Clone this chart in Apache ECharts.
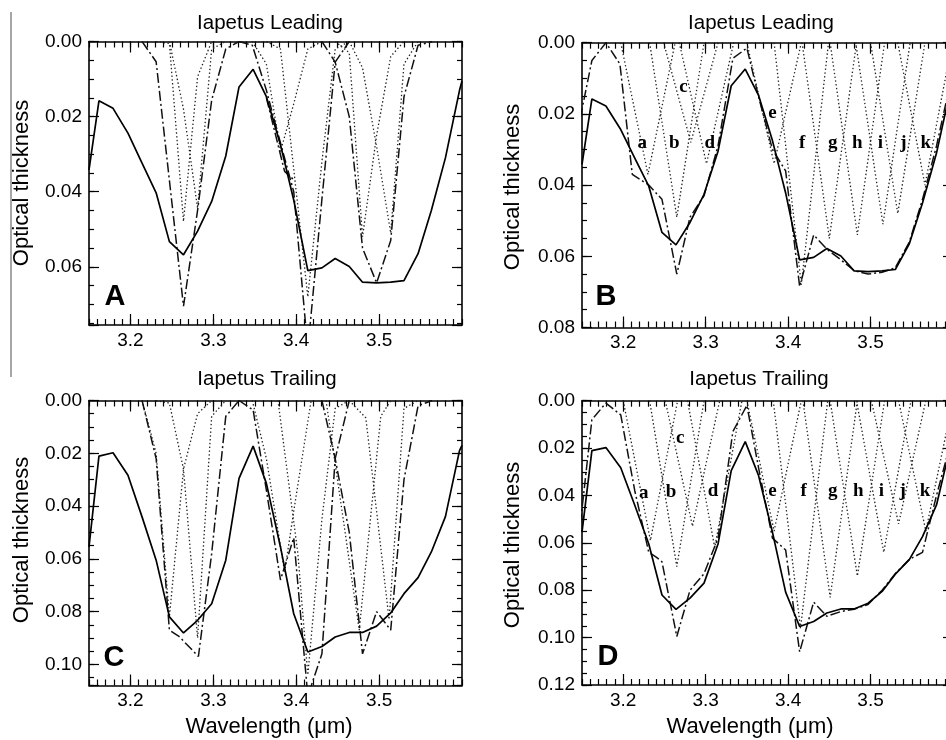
<!DOCTYPE html>
<html>
<head>
<meta charset="utf-8">
<script src="https://cdn.jsdelivr.net/npm/echarts@6/dist/echarts.min.js"></script>
<style>
html, body { margin: 0; padding: 0; background: #fff; }
#chart { width: 946px; height: 740px; }
</style>
</head>
<body>
<div id="chart"></div>
<script>
// observed spectra, shared wavelength grid (µm)
const wavelength = [3.150, 3.162, 3.179, 3.197, 3.214, 3.231, 3.247, 3.264, 3.281, 3.298, 3.315, 3.331, 3.348, 3.364,
    3.381, 3.397, 3.414, 3.431, 3.447, 3.464, 3.480, 3.497, 3.514, 3.530, 3.547, 3.563, 3.580, 3.597, 3.600];
const tauLeading = [0.0342, 0.0158, 0.0178, 0.0244, 0.0324, 0.0403, 0.0533, 0.0568, 0.0505, 0.0426, 0.0305, 0.0121, 0.0074, 0.0147,
    0.0275, 0.0422, 0.0610, 0.0603, 0.0578, 0.0599, 0.0641, 0.0643, 0.0641, 0.0637, 0.0565, 0.0450, 0.0310, 0.0130, 0.0105];
const tauTrailing = [0.0555, 0.0211, 0.0198, 0.0283, 0.0441, 0.0605, 0.0820, 0.0881, 0.0833, 0.0770, 0.0605, 0.0295, 0.0173, 0.0314,
    0.0555, 0.0808, 0.0953, 0.0932, 0.0896, 0.0879, 0.0879, 0.0855, 0.0805, 0.0732, 0.0671, 0.0574, 0.0440, 0.0190, 0.0170];

// panel A: band fits (dash-dot) and single components (dotted)
const fitsA = [
    [[3.214, 0], [3.231, 0.0054], [3.247, 0.037], [3.264, 0.0705], [3.281, 0.045], [3.298, 0.0156], [3.315, 0.002], [3.331, 0]],
    [[3.331, 0], [3.347, 0.001], [3.364, 0.013], [3.381, 0.027], [3.397, 0.040], [3.414, 0.082], [3.431, 0.042], [3.447, 0.0055], [3.464, 0]],
    [[3.364, 0.015], [3.386, 0.0346], [3.397, 0.0368]],
    [[3.431, 0], [3.447, 0.0055], [3.464, 0.020], [3.480, 0.055], [3.497, 0.0643], [3.514, 0.053], [3.530, 0.0147], [3.547, 0.001], [3.564, 0]]
];
const compsA = [
    [[3.231, 0], [3.247, 0.0005], [3.264, 0.0479], [3.281, 0.0094], [3.298, 0]],
    [[3.247, 0], [3.264, 0.018], [3.281, 0.0444], [3.298, 0.002], [3.315, 0]],
    [[3.347, 0], [3.364, 0.006], [3.381, 0.0293], [3.397, 0.0166], [3.414, 0.002], [3.431, 0]],
    [[3.364, 0], [3.381, 0.002], [3.397, 0.034], [3.414, 0.068], [3.431, 0.032], [3.447, 0.002], [3.464, 0]],
    [[3.447, 0], [3.464, 0.003], [3.480, 0.052], [3.497, 0.025], [3.514, 0.004], [3.530, 0]],
    [[3.464, 0], [3.480, 0.007], [3.497, 0.028], [3.514, 0.051], [3.530, 0.006], [3.547, 0]]
];

// panel B: summed model and components a-k
const fitB = [[3.148, 0.021], [3.162, 0.005], [3.179, 0.0], [3.196, 0.006], [3.211, 0.037], [3.231, 0.040], [3.247, 0.044],
    [3.265, 0.065], [3.281, 0.049], [3.298, 0.043], [3.315, 0.029], [3.333, 0.0044], [3.350, 0.0015], [3.364, 0.015],
    [3.381, 0.030], [3.397, 0.036], [3.414, 0.0685], [3.431, 0.054], [3.447, 0.058], [3.464, 0.061], [3.480, 0.064],
    [3.497, 0.065], [3.514, 0.0645], [3.530, 0.0632], [3.547, 0.056], [3.563, 0.044], [3.580, 0.029], [3.597, 0.011]];
const compsB = [
    [[3.197, 0], [3.230, 0.037], [3.263, 0]],
    [[3.232, 0], [3.265, 0.049], [3.298, 0]],
    [[3.249, 0], [3.282, 0.028], [3.315, 0]],
    [[3.268, 0], [3.301, 0.034], [3.334, 0]],
    [[3.350, 0], [3.383, 0.034], [3.416, 0]],
    [[3.383, 0], [3.416, 0.068], [3.449, 0]],
    [[3.417, 0], [3.450, 0.055], [3.483, 0]],
    [[3.451, 0], [3.484, 0.054], [3.517, 0]],
    [[3.482, 0], [3.515, 0.051], [3.548, 0]],
    [[3.500, 0], [3.533, 0.048], [3.566, 0]],
    [[3.533, 0], [3.566, 0.040], [3.599, 0]]
];

// panel C: band fits and components
const fitsC = [
    [[3.214, 0], [3.231, 0.022], [3.247, 0.087], [3.259, 0.0895], [3.282, 0.097], [3.298, 0.058], [3.315, 0.006], [3.331, 0]],
    [[3.331, 0], [3.348, 0.0036], [3.364, 0.034], [3.381, 0.068], [3.397, 0.052], [3.414, 0.112], [3.431, 0.096], [3.447, 0.022], [3.464, 0]],
    [[3.431, 0], [3.447, 0.022], [3.464, 0.050], [3.480, 0.096], [3.497, 0.080], [3.514, 0.087], [3.530, 0.030], [3.547, 0.002], [3.564, 0]]
];
const compsC = [
    [[3.214, 0], [3.231, 0.020], [3.247, 0.082], [3.264, 0.026], [3.281, 0.005], [3.298, 0]],
    [[3.231, 0], [3.247, 0.001], [3.264, 0.026], [3.281, 0.090], [3.298, 0.006], [3.315, 0]],
    [[3.347, 0], [3.364, 0.022], [3.386, 0.065], [3.397, 0.042], [3.418, 0]],
    [[3.378, 0], [3.402, 0.058], [3.414, 0.104], [3.431, 0.045], [3.447, 0.003], [3.464, 0]],
    [[3.436, 0], [3.476, 0.087], [3.502, 0.006], [3.514, 0]],
    [[3.464, 0], [3.484, 0.0066], [3.512, 0.083], [3.530, 0.003], [3.547, 0]]
];

// panel D: summed model and components a-k
const fitD = [[3.148, 0.052], [3.162, 0.008], [3.179, 0.001], [3.197, 0.006], [3.214, 0.038], [3.231, 0.064], [3.240, 0.066],
    [3.247, 0.068], [3.265, 0.0995], [3.281, 0.080], [3.298, 0.073], [3.315, 0.058], [3.333, 0.013], [3.350, 0.002],
    [3.364, 0.028], [3.381, 0.058], [3.397, 0.063], [3.414, 0.106], [3.431, 0.085], [3.447, 0.091], [3.464, 0.089],
    [3.480, 0.088], [3.497, 0.086], [3.514, 0.080], [3.530, 0.073], [3.547, 0.067], [3.563, 0.064], [3.580, 0.040], [3.597, 0.018]];
const compsD = [
    [[3.200, 0], [3.233, 0.059], [3.266, 0]],
    [[3.232, 0], [3.265, 0.070], [3.298, 0]],
    [[3.251, 0], [3.284, 0.053], [3.317, 0]],
    [[3.278, 0], [3.311, 0.062], [3.344, 0]],
    [[3.350, 0], [3.383, 0.055], [3.416, 0]],
    [[3.382, 0], [3.415, 0.096], [3.448, 0]],
    [[3.418, 0], [3.451, 0.083], [3.484, 0]],
    [[3.451, 0], [3.484, 0.074], [3.517, 0]],
    [[3.483, 0], [3.516, 0.064], [3.549, 0]],
    [[3.501, 0], [3.534, 0.052], [3.567, 0]],
    [[3.534, 0], [3.567, 0.055], [3.600, 0]]
];

// component letters
const compNames = ['a', 'b', 'c', 'd', 'e', 'f', 'g', 'h', 'i', 'j', 'k'];
const labelPosB = [[3.223, 0.0283], [3.262, 0.0283], [3.273, 0.0124], [3.305, 0.0283], [3.381, 0.0198], [3.417, 0.0283],
    [3.454, 0.0283], [3.484, 0.0283], [3.512, 0.0283], [3.540, 0.0283], [3.567, 0.0283]];
const labelPosD = [[3.225, 0.0390], [3.258, 0.0385], [3.269, 0.0157], [3.309, 0.0383], [3.381, 0.0383], [3.419, 0.0383],
    [3.454, 0.0383], [3.485, 0.0383], [3.513, 0.0383], [3.539, 0.0383], [3.566, 0.0383]];

const xTickLabels = [3.2, 3.3, 3.4, 3.5];
const yMaxes = [0.0755, 0.08, 0.108, 0.12];

const FONT = '"Liberation Sans", Arial, sans-serif';
const grids = [
    { left: 89, right: 484, top: 41.5, bottom: 415 },
    { left: 582, right: -7, top: 42.7, bottom: 412.5 },
    { left: 89, right: 484, top: 400.5, bottom: 54.5 },
    { left: 582, right: -7, top: 400.7, bottom: 55 }
].map(g => Object.assign({ outerBoundsMode: 'none', containLabel: false }, g));

const xAxis = [];
const yAxis = [];
const tickStyle = { color: '#000', width: 1.2 };
const frame = { show: true, onZero: false, lineStyle: { color: '#000', width: 1.6 } };
const noFrame = { show: false, onZero: false };

grids.forEach((g, i) => {
    const xBase = { gridIndex: i, type: 'value', min: 3.15, max: 3.6, splitLine: { show: false } };
    ['bottom', 'top'].forEach(pos => {
        xAxis.push(Object.assign({}, xBase, {
            position: pos, interval: 0.01, axisLine: frame,
            axisTick: { inside: true, length: 6, lineStyle: tickStyle }, axisLabel: { show: false }
        }));
        xAxis.push(Object.assign({}, xBase, {
            position: pos, interval: 0.01, axisLine: noFrame,
            axisTick: { inside: true, length: 11, customValues: xTickLabels, lineStyle: tickStyle },
            axisLabel: {
                show: pos === 'bottom', customValues: xTickLabels, margin: 6,
                fontFamily: FONT, fontSize: 19, color: '#000',
                formatter: v => v.toFixed(1)
            }
        }));
    });
    const yBase = { gridIndex: i, type: 'value', inverse: true, min: 0, max: yMaxes[i], splitLine: { show: false } };
    ['left', 'right'].forEach(pos => {
        yAxis.push(Object.assign({}, yBase, {
            position: pos, interval: 0.005, axisLine: frame,
            axisTick: { inside: true, length: 5, lineStyle: tickStyle }, axisLabel: { show: false }
        }));
        yAxis.push(Object.assign({}, yBase, {
            position: pos, interval: 0.02, axisLine: noFrame,
            axisTick: { inside: true, length: 10, lineStyle: tickStyle },
            axisLabel: {
                show: pos === 'left', margin: 7, fontFamily: FONT, fontSize: 19, color: '#000',
                formatter: v => (Math.abs(v / 0.02 - Math.round(v / 0.02)) < 1e-6 ? v.toFixed(2) : '')
            }
        }));
    });
});

const series = [];
function line(gi, data, kind) {
    const styles = {
        solid: { color: '#000', width: 1.7, type: 'solid' },
        fit: { color: '#111', width: 1.5, type: [10, 3, 2, 3] },
        comp: { color: '#222', width: 1.3, type: [1.4, 2.4] }
    };
    series.push({
        type: 'line', xAxisIndex: gi * 4, yAxisIndex: gi * 4, data: data,
        symbol: 'none', silent: true, clip: true, z: kind === 'solid' ? 5 : 3,
        lineStyle: styles[kind]
    });
}
function letters(gi, pos) {
    series.push({
        type: 'scatter', xAxisIndex: gi * 4, yAxisIndex: gi * 4, symbolSize: 2, silent: true,
        itemStyle: { color: 'rgba(255,255,255,0)' },
        data: pos.map((p, k) => ({ value: p, name: compNames[k] })),
        label: {
            show: true, position: 'inside', formatter: '{b}', color: '#000', opacity: 1,
            fontFamily: '"Liberation Serif", "DejaVu Serif", serif', fontWeight: 'bold', fontSize: 19
        },
        z: 6
    });
}
const lead = wavelength.map((w, k) => [w, tauLeading[k]]);
const trail = wavelength.map((w, k) => [w, tauTrailing[k]]);

compsA.forEach(c => line(0, c, 'comp'));
fitsA.forEach(c => line(0, c, 'fit'));
line(0, lead, 'solid');

compsB.forEach(c => line(1, c, 'comp'));
line(1, fitB, 'fit');
line(1, lead, 'solid');
letters(1, labelPosB);

compsC.forEach(c => line(2, c, 'comp'));
fitsC.forEach(c => line(2, c, 'fit'));
line(2, trail, 'solid');

compsD.forEach(c => line(3, c, 'comp'));
line(3, fitD, 'fit');
line(3, trail, 'solid');
letters(3, labelPosD);

function text(x, y, str, font, rot) {
    return {
        type: 'text', x: x, y: y, rotation: rot || 0, silent: true,
        style: { text: str, font: font, fill: '#000', align: 'center', verticalAlign: 'middle' }
    };
}
const titleFont = '20.5px ' + FONT;
const nameFont = '22px ' + FONT;
const bigFont = 'bold 29px ' + FONT;
const graphic = [
    { type: 'line', silent: true, shape: { x1: 11, y1: 12, x2: 11, y2: 377 }, style: { stroke: '#888', lineWidth: 1.5 } },
    text(270, 23, 'Iapetus Leading', titleFont),
    text(761, 23, 'Iapetus Leading', titleFont),
    text(267, 379, 'Iapetus Trailing', titleFont),
    text(759, 379, 'Iapetus Trailing', titleFont),
    text(22, 183, 'Optical thickness', nameFont, Math.PI / 2),
    text(513, 187, 'Optical thickness', nameFont, Math.PI / 2),
    text(22, 540, 'Optical thickness', nameFont, Math.PI / 2),
    text(513, 545, 'Optical thickness', nameFont, Math.PI / 2),
    text(269, 727, 'Wavelength (\u03bcm)', nameFont),
    text(750, 727, 'Wavelength (\u03bcm)', nameFont),
    text(115, 297, 'A', bigFont),
    text(606, 297, 'B', bigFont),
    text(114, 658, 'C', bigFont),
    text(608, 657, 'D', bigFont)
];

const chart = echarts.init(document.getElementById('chart'), null, { renderer: 'canvas' });
chart.setOption({
    animation: false,
    backgroundColor: '#fff',
    grid: grids,
    xAxis: xAxis,
    yAxis: yAxis,
    series: series,
    graphic: graphic
});
</script>
</body>
</html>
